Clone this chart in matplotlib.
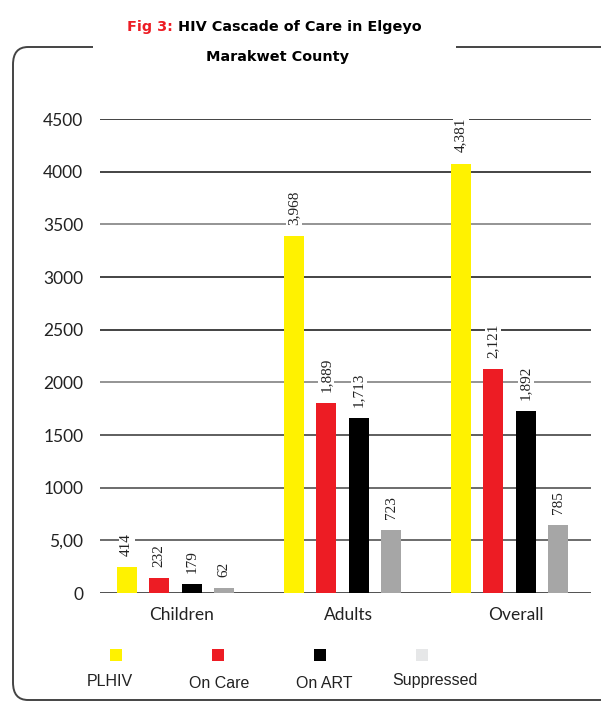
import matplotlib
matplotlib.use("Agg")
import matplotlib.pyplot as plt
import numpy as np
from matplotlib.patches import FancyBboxPatch, Rectangle

# =============================================================
# Data
# =============================================================
groups = ["Children", "Adults", "Overall"]
series = ["PLHIV", "On Care", "On ART", "Suppressed"]

# bar heights as drawn in the figure
plhiv      = [250, 3390, 4077]
on_care    = [138, 1806, 2127]
on_art     = [86, 1663, 1724]
suppressed = [43, 596, 649]

# value labels as printed above the bars
plhiv_lbl      = ["414", "3,968", "4,381"]
on_care_lbl    = ["232", "1,889", "2,121"]
on_art_lbl     = ["179", "1,713", "1,892"]
suppressed_lbl = ["62", "723", "785"]

yticks      = [0, 500, 1000, 1500, 2000, 2500, 3000, 3500, 4000, 4500]
ytick_lbls  = ["0", "5,00", "1000", "1500", "2000", "2500", "3000", "3500", "4000", "4500"]

bar_colors    = ["#fff200", "#ed1c24", "#000000", "#a6a6a6"]
legend_colors = ["#fff200", "#ed1c24", "#000000", "#e6e7e8"]
grid_colors   = ["#222222", "#444444", "#444444", "#333333", "#777777",
                 "#111111", "#111111", "#777777", "#111111", "#111111"]

W, H = 601, 704
fig = plt.figure(figsize=(W / 100, H / 100), dpi=100)


def fx(px):
    return px / W


def fy(py):
    return 1 - py / H


# =============================================================
# Frame with gap for the title
# =============================================================
frame = FancyBboxPatch((fx(13), fy(700)), fx(640) - fx(13), fy(47) - fy(700),
                       boxstyle="round,pad=0,rounding_size=0.025",
                       transform=fig.transFigure, fill=False,
                       edgecolor="#444444", linewidth=1.4, zorder=0)
fig.patches.append(frame)
fig.patches.append(Rectangle((fx(93), fy(52)), fx(456) - fx(93), fy(42) - fy(52),
                             transform=fig.transFigure, facecolor="white",
                             edgecolor="none", zorder=1))

# title
title_font = dict(fontfamily="DejaVu Sans", fontweight="bold", fontsize=10.4)
t1 = fig.text(fx(127), fy(27), "Fig 3: ", color="#ed1c24", va="center", ha="left", **title_font)
fig.canvas.draw()
bb = t1.get_window_extent()
fig.text(bb.x1 / W, fy(27), "HIV Cascade of Care in Elgeyo", color="black",
         va="center", ha="left", **title_font)
fig.text(fx(277), fy(57), "Marakwet County", color="black", va="center",
         ha="center", **title_font)

# =============================================================
# Bars
# =============================================================
ax = fig.add_axes([fx(100), fy(593), fx(591) - fx(100), fy(119) - fy(593)])

x = np.arange(len(groups))
step = 32.5 / 167
width = 20 / 167
values = [plhiv, on_care, on_art, suppressed]
labels = [plhiv_lbl, on_care_lbl, on_art_lbl, suppressed_lbl]

for y, c in zip(yticks, grid_colors):
    ax.axhline(y, color=c, linewidth=1.1, zorder=0)

for i, (vals, lbls, col) in enumerate(zip(values, labels, bar_colors)):
    xs = x + (i - 1.5) * step
    ax.bar(xs, vals, width=width, color=col, zorder=2)
    for xi, v, t in zip(xs, vals, lbls):
        ax.annotate(t, (xi, v), xytext=(0, 8), textcoords="offset points",
                    rotation=90, ha="center", va="bottom",
                    fontfamily="Liberation Serif", fontsize=11, color="#222222",
                    bbox=dict(facecolor="white", edgecolor="none", pad=1.0),
                    zorder=3)

ax.set_xlim(-75.5 / 167, 2 + 81.5 / 167)
ax.set_ylim(0, 4500)
ax.set_yticks(yticks)
ax.set_yticklabels(ytick_lbls, fontfamily="Lato", fontsize=12.5, color="#222222")
ax.set_xticks(x + 6 / 167)
ax.set_xticklabels(groups, fontfamily="Lato", fontsize=12.5, color="#222222")
ax.tick_params(axis="y", length=0, pad=12)
ax.tick_params(axis="x", length=0, pad=10)
for s in ax.spines.values():
    s.set_visible(False)
ax.set_facecolor("none")

# =============================================================
# Legend (squares above names)
# =============================================================
sq_x = [116, 218, 320, 422]
txt_x = [110, 219, 324, 435]
txt_y = [682, 683, 683, 681]
for sx, tx, ty, col, name in zip(sq_x, txt_x, txt_y, legend_colors, series):
    fig.patches.append(Rectangle((fx(sx - 6), fy(661)), fx(12), fy(649) - fy(661),
                                 transform=fig.transFigure, facecolor=col,
                                 edgecolor="none"))
    fig.text(fx(tx), fy(ty), name, ha="center", va="center",
             fontfamily="Liberation Sans", fontsize=11.5, color="#222222")

fig.savefig("out.png", dpi=100)
